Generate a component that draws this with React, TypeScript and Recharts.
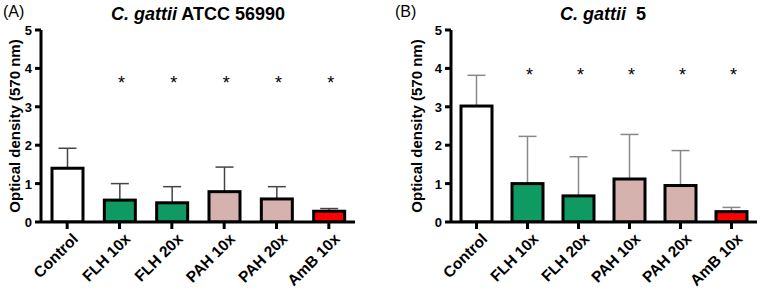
import React from 'react';
import { ComposedChart, Bar, Line, XAxis, YAxis, Cell } from 'recharts';

const categories = ['Control', 'FLH 10x', 'FLH 20x', 'PAH 10x', 'PAH 20x', 'AmB 10x'];
const yTicks = [0, 1, 2, 3, 4, 5];

const meansA = [1.4, 0.57, 0.5, 0.79, 0.6, 0.28];
const errTopA = [1.92, 1.0, 0.92, 1.43, 0.92, 0.35];
const starsA = ['', '*', '*', '*', '*', '*'];
const starLevelA = 3.75;

const meansB = [3.02, 1.0, 0.68, 1.12, 0.95, 0.27];
const errTopB = [3.82, 2.23, 1.7, 2.28, 1.86, 0.38];
const starsB = ['', '*', '*', '*', '*', '*'];
const starLevelB = 3.97;

const FONT = '"Liberation Sans", Arial, Helvetica, sans-serif';
const barFills = ['#ffffff', '#0f9a63', '#0f9a63', '#d6b2af', '#d6b2af', '#ff0000'];

function buildData(means: number[], errs: number[], stars: string[], level: number) {
  return categories.map((c, i) => ({
    name: c,
    value: means[i],
    errTop: errs[i],
    star: stars[i] ? level : null,
    starText: stars[i],
  }));
}

const dataA = buildData(meansA, errTopA, starsA, starLevelA);
const dataB = buildData(meansB, errTopB, starsB, starLevelB);

const makeBarShape = (errColor: string) => (props: any) => {
  const { x, y, width, height, payload, fill } = props;
  const v = payload.value;
  const perUnit = height / v;
  const ey = y - (payload.errTop - v) * perUnit;
  const cx = x + width / 2;
  return (
    <g>
      <line x1={cx} x2={cx} y1={y} y2={ey} stroke={errColor} strokeWidth={1.5} />
      <line x1={cx - 9} x2={cx + 9} y1={ey} y2={ey} stroke={errColor} strokeWidth={1.5} />
      <rect x={x} y={y} width={width} height={height} fill={fill} stroke="#000" strokeWidth={3} />
    </g>
  );
};

const XTick = (props: any) => {
  const { x, y, payload } = props;
  const ax = x + 4;
  const ay = y + 1;
  return (
    <text
      x={ax}
      y={ay}
      transform={`rotate(-45, ${ax}, ${ay})`}
      textAnchor="end"
      dominantBaseline="hanging"
      fontFamily={FONT}
      fontWeight="bold"
      fontSize={15.5}
      fill="#000"
    >
      {payload.value}
    </text>
  );
};

const YTick = (props: any) => {
  const { x, y, payload } = props;
  return (
    <text x={x - 1} y={y + 5} textAnchor="end" fontFamily={FONT} fontWeight="bold" fontSize={13} fill="#000">
      {payload.value}
    </text>
  );
};

const StarLabel = (props: any) => {
  const { x, y, value, index, data } = props;
  const txt = data[index]?.starText;
  if (!txt || value == null) return null;
  return (
    <text x={x + 2} y={y + 11} textAnchor="middle" fontFamily={FONT} fontSize={18} fill="#000" stroke="none">
      {txt}
    </text>
  );
};

const Panel = ({
  data,
  width,
  yAxisWidth,
  right,
  errColor,
  labelX,
}: {
  data: any[];
  width: number;
  yAxisWidth: number;
  right: number;
  errColor: string;
  labelX: number;
}) => {
  const shape = makeBarShape(errColor);
  return (
    <ComposedChart width={width} height={292} data={data} margin={{ top: 30, right, left: 0, bottom: 0 }}>
      <XAxis
        dataKey="name"
        height={70}
        interval={0}
        axisLine={{ stroke: '#000', strokeWidth: 3 }}
        tickLine={{ stroke: '#000', strokeWidth: 3 }}
        tickSize={7}
        tick={<XTick />}
      />
      <YAxis
        width={yAxisWidth}
        domain={[0, 5]}
        ticks={yTicks}
        interval={0}
        allowDataOverflow
        axisLine={{ stroke: '#000', strokeWidth: 3 }}
        tickLine={{ stroke: '#000', strokeWidth: 3 }}
        tickSize={6}
        tick={<YTick />}
        label={(lp: any) => {
          const vb = lp.viewBox;
          const cy = vb.y + vb.height / 2;
          return (
            <text
              x={labelX}
              y={cy}
              transform={`rotate(-90, ${labelX}, ${cy})`}
              textAnchor="middle"
              dominantBaseline="central"
              fontFamily={FONT}
              fontWeight="bold"
              fontSize={15}
              fill="#000"
            >
              Optical density (570 nm)
            </text>
          );
        }}
      />
      <Bar dataKey="value" barSize={31} isAnimationActive={false} shape={shape}>
        {data.map((_, i) => (
          <Cell key={i} fill={barFills[i]} />
        ))}
      </Bar>
      <Line
        dataKey="star"
        stroke="none"
        dot={false}
        activeDot={false}
        isAnimationActive={false}
        connectNulls={false}
        label={(p: any) => <StarLabel {...p} data={data} />}
      />
    </ComposedChart>
  );
};

export default function App() {
  return (
    <div style={{ position: 'absolute', left: 0, top: 0, width: 761, height: 292, background: '#fff' }}>
      <div style={{ position: 'absolute', left: 0, top: 0 }}>
        <Panel data={dataA} width={380} yAxisWidth={41} right={25} errColor="#444" labelX={14} />
      </div>
      <div style={{ position: 'absolute', left: 380, top: 0 }}>
        <Panel data={dataB} width={381} yAxisWidth={71} right={4} errColor="#888" labelX={36} />
      </div>
      <svg width={761} height={30} style={{ position: 'absolute', left: 0, top: 0 }}>
        <text x={3} y={17} fontFamily={FONT} fontSize={16} fill="#000">(A)</text>
        <text x={198} y={20} textAnchor="middle" fontFamily={FONT} fontSize={18} fontWeight="bold" fill="#000">
          <tspan fontStyle="italic">C. gattii</tspan>
          <tspan> ATCC 56990</tspan>
        </text>
        <text x={395} y={17} fontFamily={FONT} fontSize={16} fill="#000">(B)</text>
        <text x={603} y={20} textAnchor="middle" fontFamily={FONT} fontSize={18} fontWeight="bold" fill="#000" style={{ whiteSpace: 'pre' }}>
          <tspan fontStyle="italic">C. gattii</tspan>
          <tspan>{'  5'}</tspan>
        </text>
      </svg>
    </div>
  );
}
